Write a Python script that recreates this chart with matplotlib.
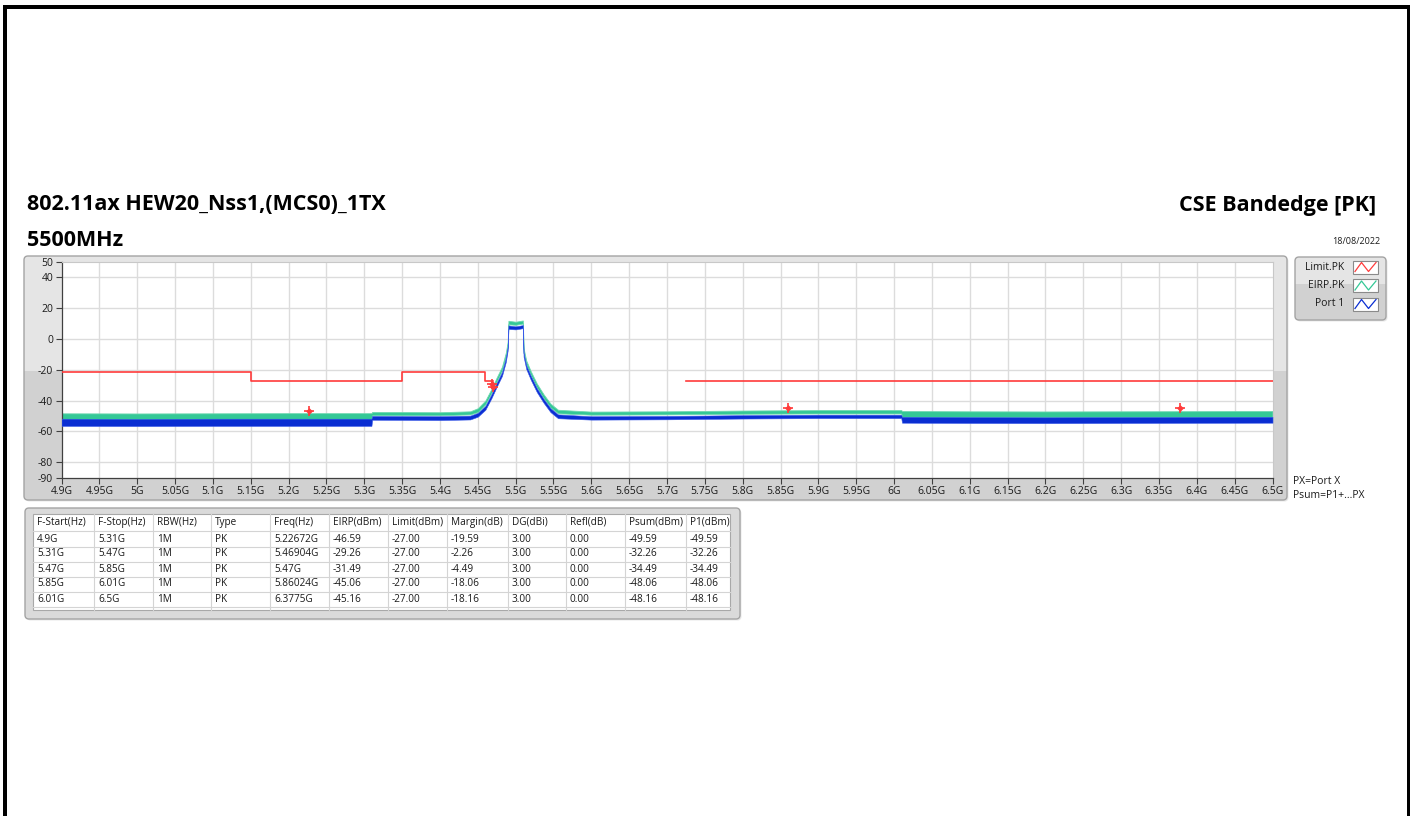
import numpy as np
import matplotlib
matplotlib.use('Agg')
import matplotlib.pyplot as plt
from matplotlib.patches import FancyBboxPatch, Rectangle

# ---------------- data ----------------
trace_freq_ghz = [4.900, 5.000, 5.100, 5.200, 5.3095, 5.3105, 5.400, 5.440, 5.450, 5.460,
                  5.468, 5.475, 5.482, 5.487, 5.4895, 5.4905, 5.500, 5.5095, 5.5105, 5.514,
                  5.520, 5.528, 5.537, 5.546, 5.556, 5.600, 5.700, 5.800, 5.900, 6.0095,
                  6.0105, 6.100, 6.200, 6.300, 6.400, 6.500]
eirp_hi = [-48.3, -48.4, -48.3, -48.2, -48.2, -47.4, -47.6, -47.0, -45.0, -40.0,
           -32.5, -25.0, -18.0, -9.0, -2.0, 11.8, 11.2, 12.0, -6.0, -14.0,
           -21.0, -29.0, -36.0, -42.0, -46.0, -47.2, -47.0, -46.5, -46.2, -46.2,
           -46.8, -47.0, -47.1, -47.0, -46.9, -46.8]
eirp_lo = [-53.0, -53.0, -53.0, -53.0, -53.0, -49.6, -49.6, -49.0, -47.5, -42.5,
           -35.0, -27.5, -20.5, -12.0, -5.0, 9.5, 9.2, 10.0, -8.5, -16.5,
           -23.5, -31.5, -38.5, -44.5, -48.3, -49.2, -49.0, -48.6, -48.4, -48.4,
           -51.0, -51.0, -51.0, -51.0, -51.0, -51.0]
port1_hi = [-51.8, -52.0, -51.8, -51.8, -51.8, -50.0, -50.2, -49.8, -48.0, -43.5,
            -36.0, -28.5, -21.5, -12.5, -5.0, 8.8, 8.2, 9.0, -9.0, -17.0,
            -24.0, -32.0, -39.0, -45.0, -49.0, -50.2, -50.0, -49.5, -49.2, -49.2,
            -50.6, -50.8, -50.9, -50.8, -50.7, -50.6]
port1_lo = [-56.5, -56.6, -56.5, -56.5, -56.5, -52.5, -52.7, -52.3, -50.5, -46.0,
            -38.5, -31.0, -24.0, -15.0, -7.5, 6.5, 6.2, 7.0, -11.5, -19.5,
            -26.5, -34.5, -41.5, -47.5, -51.5, -52.4, -52.2, -51.7, -51.4, -51.4,
            -54.4, -54.6, -54.7, -54.6, -54.5, -54.4]

limit_freq_ghz = [4.90, 5.15, 5.15, 5.35, 5.35, 5.46, 5.46, 5.47, np.nan, 5.725, 6.50]
limit_db = [-21.3, -21.3, -27.0, -27.0, -21.3, -21.3, -27.0, -27.0, np.nan, -27.0, -27.0]

marker_freq_ghz = [5.22672, 5.46904, 5.47, 5.86024, 6.3775]
marker_eirp = [-46.59, -29.26, -31.49, -45.06, -45.16]

y_ticks = [50, 40, 20, 0, -20, -40, -60, -80, -90]
y_grid = [40, 20, 0, -20, -40, -60, -80]
x_ticks = [4.9, 4.95, 5.0, 5.05, 5.1, 5.15, 5.2, 5.25, 5.3, 5.35, 5.4, 5.45, 5.5, 5.55,
           5.6, 5.65, 5.7, 5.75, 5.8, 5.85, 5.9, 5.95, 6.0, 6.05, 6.1, 6.15, 6.2, 6.25,
           6.3, 6.35, 6.4, 6.45, 6.5]
x_tick_labels = ['%gG' % v for v in x_ticks]

table_header = ['F-Start(Hz)', 'F-Stop(Hz)', 'RBW(Hz)', 'Type', 'Freq(Hz)', 'EIRP(dBm)',
                'Limit(dBm)', 'Margin(dB)', 'DG(dBi)', 'Refl(dB)', 'Psum(dBm)', 'P1(dBm)']
col_fstart = ['4.9G', '5.31G', '5.47G', '5.85G', '6.01G']
col_fstop = ['5.31G', '5.47G', '5.85G', '6.01G', '6.5G']
col_rbw = ['1M', '1M', '1M', '1M', '1M']
col_type = ['PK', 'PK', 'PK', 'PK', 'PK']
col_freq = ['5.22672G', '5.46904G', '5.47G', '5.86024G', '6.3775G']
col_eirp = ['-46.59', '-29.26', '-31.49', '-45.06', '-45.16']
col_limit = ['-27.00', '-27.00', '-27.00', '-27.00', '-27.00']
col_margin = ['-19.59', '-2.26', '-4.49', '-18.06', '-18.16']
col_dg = ['3.00', '3.00', '3.00', '3.00', '3.00']
col_refl = ['0.00', '0.00', '0.00', '0.00', '0.00']
col_psum = ['-49.59', '-32.26', '-34.49', '-48.06', '-48.16']
col_p1 = ['-49.59', '-32.26', '-34.49', '-48.06', '-48.16']
table_cols = [col_fstart, col_fstop, col_rbw, col_type, col_freq, col_eirp, col_limit,
              col_margin, col_dg, col_refl, col_psum, col_p1]

legend_labels = ['Limit.PK', 'EIRP.PK', 'Port 1']

# ---------------- styling ----------------
RED = '#ff3b3b'
GREEN = '#34c896'
GREEN_EDGE = '#6fd8b0'
BLUE = '#0a2ed2'
BLUE_EDGE = '#3a5ae8'
FONT = 'Open Sans'
TXT = '#1a1a1a'

W, H = 1415, 816
fig = plt.figure(figsize=(W / 100, H / 100), dpi=100)
fig.patch.set_facecolor('white')

bg = fig.add_axes([0, 0, 1, 1], zorder=0)
bg.set_xlim(0, W)
bg.set_ylim(H, 0)
bg.axis('off')


def px_axes(x0, y0, x1, y1):
    return [x0 / W, 1 - y1 / H, (x1 - x0) / W, (y1 - y0) / H]


def panel(x0, y0, x1, y1, split, top='#e5e5e5', bot='#d1d1d1', edge='#a4a4a4'):
    sh = FancyBboxPatch((x0 + 1.5, y0 + 1.5), x1 - x0, y1 - y0,
                        boxstyle='round,pad=0,rounding_size=4', fc='#e8e8e8', ec='none')
    bg.add_patch(sh)
    p = FancyBboxPatch((x0, y0), x1 - x0, y1 - y0,
                       boxstyle='round,pad=0,rounding_size=4', fc=top, ec='none')
    bg.add_patch(p)
    if split is not None:
        r = Rectangle((x0, split), x1 - x0, y1 - split, fc=bot, ec='none')
        bg.add_patch(r)
        r.set_clip_path(p)
    bg.add_patch(FancyBboxPatch((x0, y0), x1 - x0, y1 - y0,
                                boxstyle='round,pad=0,rounding_size=4', fc='none',
                                ec=edge, lw=1.0))


# outer black frame
bg.add_patch(Rectangle((3, 5), 1407, 3.5, fc='black', ec='none'))
bg.add_patch(Rectangle((3, 5), 3.5, H, fc='black', ec='none'))
bg.add_patch(Rectangle((1406.5, 5), 3.5, H, fc='black', ec='none'))

# titles
bg.text(27, 205, '802.11ax HEW20_Nss1,(MCS0)_1TX', fontsize=15.5, fontweight='bold',
        family=FONT, va='center', ha='left', color='black')
bg.text(27, 241, '5500MHz', fontsize=15.5, fontweight='bold', family=FONT,
        va='center', ha='left', color='black')
bg.text(1376, 205, 'CSE Bandedge [PK]', fontsize=15.5, fontweight='bold', family=FONT,
        va='center', ha='right', color='black')
bg.text(1380, 242, '18/08/2022', fontsize=6.5, family=FONT, va='center', ha='right',
        color=TXT)

# plot panel
panel(24, 256, 1287, 500, 371)
# legend panel
panel(1295, 257, 1386, 320, 284)
# table panel
panel(25, 508, 740, 619, None, top='#dadada')

bg.text(1293, 482, 'PX=Port X', fontsize=7.5, family=FONT, va='center', ha='left', color=TXT)
bg.text(1293, 495, 'Psum=P1+...PX', fontsize=7.5, family=FONT, va='center', ha='left', color=TXT)

# legend entries
leg_colors = [RED, GREEN, BLUE]
leg_y = [267, 285.5, 304]
for lab, col, yc in zip(legend_labels, leg_colors, leg_y):
    bg.text(1344, yc, lab, fontsize=7.5, family=FONT, va='center', ha='right', color=TXT)
    bx0, bx1, by0, by1 = 1353, 1378, yc - 6.5, yc + 6.5
    bg.add_patch(Rectangle((bx0, by0), bx1 - bx0, by1 - by0, fc='white', ec='#8a8a8a', lw=0.8))
    zx = [bx0 + 2, bx0 + 8.5, bx0 + 15.5, bx0 + 23]
    zy = [by1 - 2, by0 + 2, by1 - 2, by0 + 2]
    bg.plot(zx, zy, color=col, lw=0.9)

# table
col_lines = [33, 94, 153, 211, 270, 329, 388, 447, 508, 566, 625, 686, 730]
tbl_top, tbl_bot = 514, 610
bg.add_patch(Rectangle((col_lines[0], tbl_top), col_lines[-1] - col_lines[0], tbl_bot - tbl_top,
                       fc='white', ec='#a8a8a8', lw=0.8))
row_lines = [530.5, 546.5, 561.5, 576.5, 591.5, 606.5]
for yl in row_lines:
    bg.plot([col_lines[0], col_lines[-1]], [yl, yl], color='#d4d4d4', lw=0.8)
for xl in col_lines[1:-1]:
    bg.plot([xl, xl], [tbl_top, tbl_bot], color='#d4d4d4', lw=0.8)
row_y = [539, 554, 569, 584, 599]
for j, (hdr, col) in enumerate(zip(table_header, table_cols)):
    x = col_lines[j] + 4
    bg.text(x, 522, hdr, fontsize=7.2, family=FONT, va='center', ha='left', color=TXT)
    for yc, val in zip(row_y, col):
        bg.text(x, yc, val, fontsize=7.2, family=FONT, va='center', ha='left', color=TXT)

# ---------------- main axes ----------------
ax = fig.add_axes(px_axes(61.5, 262, 1272.5, 477.5), zorder=2)
ax.set_facecolor('white')
ax.set_xlim(4.9, 6.5)
ax.set_ylim(-90, 50)

for v in y_grid:
    ax.axhline(v, color='#dcdcdc', lw=1.0, zorder=0)
for v in x_ticks[1:-1]:
    ax.axvline(v, color='#dcdcdc', lw=1.0, zorder=0)

ax.fill_between(trace_freq_ghz, eirp_lo, eirp_hi, color=GREEN, lw=0.6,
                edgecolor=GREEN_EDGE, zorder=2)
ax.fill_between(trace_freq_ghz, port1_lo, port1_hi, color=BLUE, lw=0.4,
                edgecolor=BLUE_EDGE, zorder=3)
ax.plot(limit_freq_ghz, limit_db, color=RED, lw=1.2, zorder=4)

ax.scatter(marker_freq_ghz, marker_eirp, marker='+', s=55, color=RED, linewidths=1.2, zorder=5)
ax.scatter(marker_freq_ghz, marker_eirp, marker='D', s=12, color=RED, linewidths=0, zorder=5)

ax.set_yticks(y_ticks)
ax.set_yticklabels([str(v) for v in y_ticks])
ax.set_xticks(x_ticks)
ax.set_xticklabels(x_tick_labels)
ax.tick_params(axis='both', direction='out', length=4, width=0.8, color='#404040',
               labelsize=7.5, labelcolor=TXT, pad=2)
for lab in ax.get_xticklabels() + ax.get_yticklabels():
    lab.set_family(FONT)
for s in ['left', 'bottom']:
    ax.spines[s].set_color('#404040')
    ax.spines[s].set_linewidth(0.9)
for s in ['top', 'right']:
    ax.spines[s].set_color('#c8c8c8')
    ax.spines[s].set_linewidth(0.8)

fig.savefig('out.png', dpi=100, facecolor='white')
